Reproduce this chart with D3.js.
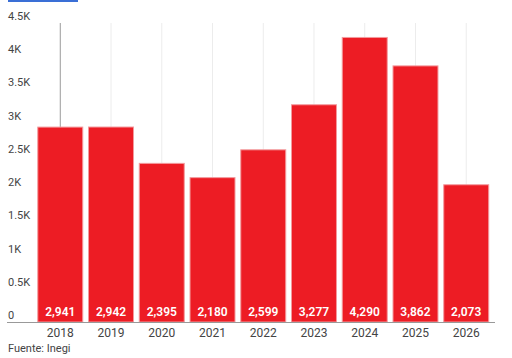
<!DOCTYPE html>
<html><head><meta charset="utf-8">
<script src="https://cdn.jsdelivr.net/npm/d3@7"></script>
<style>
html,body{margin:0;padding:0;background:#fff;}
svg{display:block;font-family:Roboto,"Liberation Sans",Arial,sans-serif;}
</style></head>
<body>
<script>
const years = ["2018","2019","2020","2021","2022","2023","2024","2025","2026"];
const values = [2941,2942,2395,2180,2599,3277,4290,3862,2073];
const yTicks = [0,500,1000,1500,2000,2500,3000,3500,4000,4500];
const yTickLabels = ["0","0.5K","1K","1.5K","2K","2.5K","3K","3.5K","4K","4.5K"];
const sourceText = "Fuente: Inegi";
const highlighted = "2018";

const W = 512, H = 358;
const svg = d3.select("body").append("svg").attr("width", W).attr("height", H);

// top tab underline
svg.append("rect").attr("x", 8).attr("y", 0).attr("width", 70).attr("height", 2).attr("fill", "#3a6fd6");

const x = d3.scaleBand().domain(years).range([34.9, 491.6]).paddingInner(0.094).paddingOuter(0.047);
const y = d3.scaleLinear().domain([0, 4500]).range([322, 23]);

// vertical gridlines at bar centers
svg.append("g").selectAll("line").data(years).join("line")
  .attr("x1", d => x(d) + x.bandwidth()/2).attr("x2", d => x(d) + x.bandwidth()/2)
  .attr("y1", y(4500)).attr("y2", y(0))
  .attr("stroke", d => d === highlighted ? "#9a9a9a" : "#ececec")
  .attr("stroke-width", 1);

// y tick labels (above their value)
svg.append("g").selectAll("text").data(yTicks).join("text")
  .attr("x", 8).attr("y", d => y(d) - 3)
  .attr("font-size", 11).attr("fill", "#444")
  .text((d, i) => yTickLabels[i]);

// bars
svg.append("g").selectAll("rect").data(values).join("rect")
  .attr("x", (d, i) => x(years[i]) + 0.5)
  .attr("y", d => y(d) + 0.5)
  .attr("width", x.bandwidth() - 1)
  .attr("height", d => y(0) - y(d) - 0.5)
  .attr("fill", "#ed1c24")
  .attr("stroke", "#f39a9d").attr("stroke-width", 1);

// value labels
svg.append("g").selectAll("text").data(values).join("text")
  .attr("x", (d, i) => x(years[i]) + x.bandwidth()/2)
  .attr("y", y(0) - 6.5)
  .attr("text-anchor", "middle").attr("font-size", 12).attr("font-weight", 600)
  .attr("fill", "#fff")
  .text(d => d3.format(",")(d));

// x axis line
svg.append("line").attr("x1", 7).attr("x2", 495).attr("y1", 322.5).attr("y2", 322.5)
  .attr("stroke", "#999").attr("stroke-width", 1);

// x axis labels
const xAxis = d3.axisBottom(x).tickSize(0).tickPadding(6);
const gx = svg.append("g").attr("transform", "translate(0,322)").call(xAxis);
gx.select(".domain").remove();
gx.selectAll("text").attr("font-size", 12).attr("fill", "#444").attr("font-family", "Roboto,Arial,sans-serif");

// source
svg.append("text").attr("x", 8).attr("y", 352).attr("font-size", 11).attr("fill", "#444").text(sourceText);
</script>
</body></html>
